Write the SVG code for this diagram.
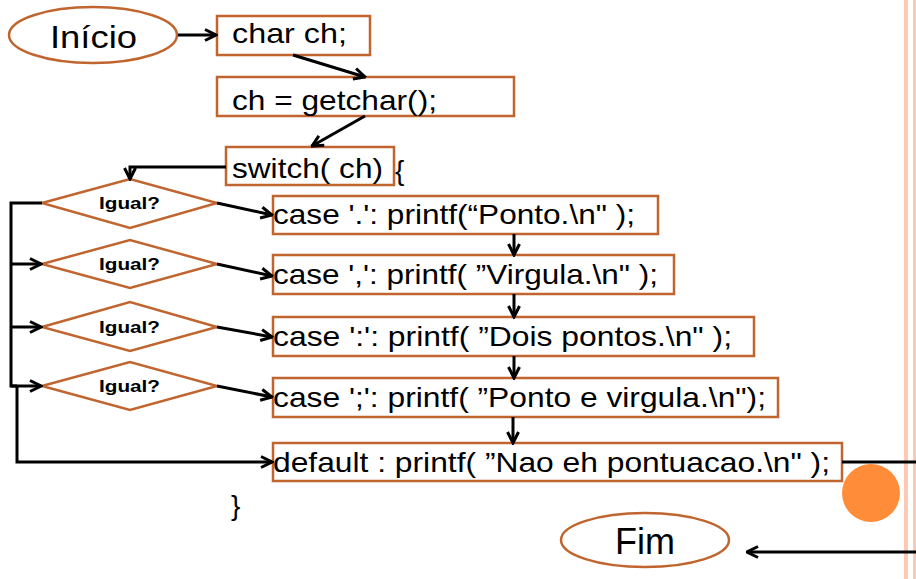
<svg xmlns="http://www.w3.org/2000/svg" width="916" height="579" viewBox="0 0 916 579">
<style>
.box{fill:#fff;stroke:#C0652F;stroke-width:2.5}
.t{font-family:"Liberation Sans",Arial,sans-serif;font-size:28px;fill:#000}
.lbl{font-family:"Liberation Sans",Arial,sans-serif;font-size:17px;font-weight:bold;fill:#000}
.c{fill:none;stroke:#000;stroke-width:3}
</style>
<defs>
<marker id="ah" viewBox="0 0 14 14" refX="12.5" refY="7" markerWidth="14" markerHeight="14" orient="auto" markerUnits="userSpaceOnUse">
<path d="M1.5,1.5 L12.5,7 L1.5,12.5" fill="none" stroke="#000" stroke-width="3"/>
</marker>
</defs>
<rect x="0" y="0" width="916" height="579" fill="#fff"/>
<rect x="904" y="0" width="4" height="579" fill="#FFC8B4"/>
<rect x="913" y="0" width="3" height="579" fill="#FFC8B4"/>
<circle cx="871" cy="493" r="29" fill="#FF8C38"/>

<g id="inicio"><ellipse class="box" cx="93" cy="35" rx="84" ry="28"/><text class="t" x="50" y="48" style="font-size:32px" textLength="87" lengthAdjust="spacingAndGlyphs">Início</text></g>
<g id="decl"><rect class="box" x="217" y="16" width="153" height="39"/><text class="t" x="232" y="43" textLength="115" lengthAdjust="spacingAndGlyphs">char ch;</text></g>
<g id="getchar"><rect class="box" x="217" y="77" width="297" height="39"/><text class="t" x="232" y="110" textLength="205" lengthAdjust="spacingAndGlyphs">ch = getchar();</text></g>
<g id="switch"><rect class="box" x="226" y="147" width="168" height="38"/><text class="t" x="232" y="178" textLength="151" lengthAdjust="spacingAndGlyphs">switch( ch)</text><text class="t" x="395" y="180">{</text></g>

<g id="d1"><polygon class="box" points="42,203 130,179 217,203 130,228"/><text class="lbl" x="99" y="209" textLength="61" lengthAdjust="spacingAndGlyphs">Igual?</text></g>
<g id="d2"><polygon class="box" points="42,264 130,240 217,264 130,288"/><text class="lbl" x="99" y="270" textLength="61" lengthAdjust="spacingAndGlyphs">Igual?</text></g>
<g id="d3"><polygon class="box" points="42,327 130,302 217,327 130,351"/><text class="lbl" x="99" y="333" textLength="61" lengthAdjust="spacingAndGlyphs">Igual?</text></g>
<g id="d4"><polygon class="box" points="42,386 130,362 217,386 130,410"/><text class="lbl" x="99" y="392" textLength="61" lengthAdjust="spacingAndGlyphs">Igual?</text></g>

<g id="case1"><rect class="box" x="273" y="196" width="385" height="38"/><text class="t" x="273" y="224" textLength="362" lengthAdjust="spacingAndGlyphs">case '.': printf(“Ponto.\n" );</text></g>
<g id="case2"><rect class="box" x="273" y="255" width="401" height="39"/><text class="t" x="273" y="284" textLength="385" lengthAdjust="spacingAndGlyphs">case ',': printf( ”Virgula.\n" );</text></g>
<g id="case3"><rect class="box" x="273" y="317" width="481" height="39"/><text class="t" x="273" y="346" textLength="459" lengthAdjust="spacingAndGlyphs">case ':': printf( ”Dois pontos.\n" );</text></g>
<g id="case4"><rect class="box" x="273" y="378" width="505" height="39"/><text class="t" x="273" y="407" textLength="493" lengthAdjust="spacingAndGlyphs">case ';': printf( ”Ponto e virgula.\n");</text></g>
<g id="default"><rect class="box" x="273" y="443" width="569" height="38"/><text class="t" x="273" y="472" textLength="557" lengthAdjust="spacingAndGlyphs">default : printf( ”Nao eh pontuacao.\n" );</text></g>
<g id="close"><text class="t" x="231" y="515">}</text></g>
<g id="fim"><ellipse class="box" cx="645" cy="540" rx="84" ry="27"/><text class="t" x="645" y="554" style="font-size:36px;text-anchor:middle">Fim</text></g>

<g id="connectors">
<path class="c" d="M178,35 L216,35" marker-end="url(#ah)"/>
<path class="c" d="M293,55 L365,77" marker-end="url(#ah)"/>
<path class="c" d="M365,116 L312,146" marker-end="url(#ah)"/>
<path class="c" d="M226,167 L130,167 L130,179" marker-end="url(#ah)"/>
<path class="c" d="M217,203 L272,215" marker-end="url(#ah)"/>
<path class="c" d="M217,264 L272,276" marker-end="url(#ah)"/>
<path class="c" d="M217,327 L272,337" marker-end="url(#ah)"/>
<path class="c" d="M217,386 L272,397" marker-end="url(#ah)"/>
<path class="c" d="M42,203 L11,203 L11,386 L17,386"/>
<path class="c" d="M11,264 L41,264" marker-end="url(#ah)"/>
<path class="c" d="M11,327 L41,327" marker-end="url(#ah)"/>
<path class="c" d="M11,386 L41,386" marker-end="url(#ah)"/>
<path class="c" d="M17,386 L17,462 L272,462" marker-end="url(#ah)"/>
<path class="c" d="M514,234 L514,255" marker-end="url(#ah)"/>
<path class="c" d="M514,294 L514,317" marker-end="url(#ah)"/>
<path class="c" d="M514,356 L514,378" marker-end="url(#ah)"/>
<path class="c" d="M513,417 L513,443" marker-end="url(#ah)"/>
<path class="c" d="M842,462 L916,462"/>
<path class="c" d="M916,552 L747,552" marker-end="url(#ah)"/>
</g>
</svg>
